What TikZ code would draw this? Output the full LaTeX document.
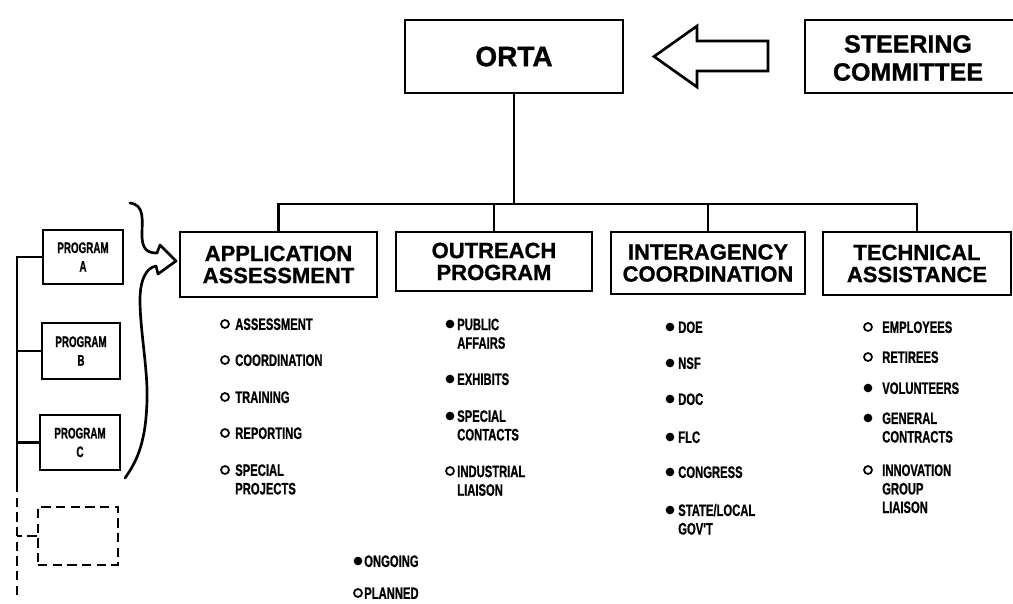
\documentclass[tikz,border=0pt]{standalone}
\usepackage{fontspec}
\setmainfont{Liberation Sans}
\newfontfamily\listfont{Liberation Sans}[FakeStretch=0.68, FakeBold=0.8]
\newfontfamily\progfont{Liberation Sans}[FakeStretch=0.64, FakeBold=0.8]
\newfontfamily\headfont{Liberation Sans}[FakeBold=1]
\usetikzlibrary{calc}
\begin{document}
\begin{tikzpicture}[x=0.75pt,y=-0.75pt,
  box/.style={draw, line width=2pt, inner sep=0pt, align=center},
  head/.style={font=\headfont\bfseries\fontsize{16.5}{16.5}\selectfont},
  big/.style={font=\headfont\bfseries\fontsize{18.75}{21}\selectfont},
  conn/.style={line width=1.6pt},
  item/.style={anchor=base west, inner sep=0pt, align=left, font=\listfont\bfseries\fontsize{12.4}{13.9}\selectfont},
  prog/.style={box, font=\progfont\bfseries\fontsize{11.5}{14}\selectfont},
  dotf/.style={circle, fill, inner sep=0pt, minimum size=6.5pt},
  doto/.style={circle, draw, line width=1.3pt, inner sep=0pt, minimum size=6pt},
  longdash/.style={dash pattern=on 7pt off 4pt}]
\useasboundingbox (0,0) rectangle (1013,603);
\clip (0,0) rectangle (1013,603);
% top
\node[box, font=\headfont\bfseries\fontsize{21}{21}\selectfont, minimum width=163.5pt, minimum height=54.75pt] (orta) at (514,56.5) {ORTA};
\node[box, minimum width=168.75pt, minimum height=54.75pt] (steer) at (917.5,56.5) {};
\node[big, align=center, inner sep=0pt] (steertext) at (908,58) {STEERING\\COMMITTEE};
\draw[line width=2pt, line join=miter] (768,41) -- (697,41) -- (697,26) -- (654,56.5) -- (697,87) -- (697,71) -- (768,71) -- cycle;
% second level
\node[box, head, minimum width=147.75pt, minimum height=48.75pt] (app) at (278.5,264.5) {APPLICATION\\ASSESSMENT};
\node[box, head, minimum width=147pt, minimum height=44.25pt] (out) at (494,261.5) {OUTREACH\\PROGRAM};
\node[box, head, minimum width=145.5pt, minimum height=46.5pt] (inter) at (708,263) {INTERAGENCY\\COORDINATION};
\node[box, head, minimum width=141pt, minimum height=47.25pt] (tech) at (917,263.5) {TECHNICAL\\ASSISTANCE};
\coordinate (bar) at (514,204);
\draw[conn] (orta.south) -- (bar);
\draw[conn] (app.north) |- (bar) -| (tech.north);
\draw[conn] (out.north) -- (out.north |- bar);
\draw[conn] (inter.north) -- (inter.north |- bar);
% programs
\node[prog, minimum width=60pt, minimum height=40.5pt] (pa) at (83,257) {PROGRAM\\A};
\node[prog, minimum width=58.5pt, minimum height=42pt] (pb) at (81,351) {PROGRAM\\B};
\node[prog, minimum width=60pt, minimum height=41.25pt] (pc) at (80,442.5) {PROGRAM\\C};
\node[box, longdash, minimum width=60pt, minimum height=43.5pt] (pd) at (78,536) {};
\coordinate (vtop) at (17,257);
\coordinate (vmid) at (17,483);
\coordinate (vbot) at (17,600);
\draw[conn] (pa.west) -- (vtop) -- (vmid);
\draw[conn, longdash] (vmid) -- (vbot);
\draw[conn] (pb.west) -- (pb.west -| vtop);
\draw[conn] (pc.west) -- (pc.west -| vtop);
\draw[conn, longdash] (pd.west) -- (pd.west -| vtop);
% brace arrow
\draw[line width=2pt, line join=round, line cap=round]
  (130,203) .. controls (145,205) and (142,220) .. (142,235)
  .. controls (142,250) and (148,253) .. (157,253) -- (160,245) -- (176,261) -- (158,274) -- (156,266)
  .. controls (145,268) and (140,282) .. (140,300)
  .. controls (140,330) and (148,370) .. (147,400)
  .. controls (146,440) and (138,460) .. (125,478);
% column 1
\node[doto] (c1a) at (225,324) {}; \node[item] (t1a) at (235,329.9) {ASSESSMENT};
\node[doto] (c1b) at (225,360) {}; \node[item] (t1b) at (235,365.9) {COORDINATION};
\node[doto] (c1c) at (225,397) {}; \node[item] (t1c) at (235,402.9) {TRAINING};
\node[doto] (c1d) at (225,433) {}; \node[item] (t1d) at (235,438.9) {REPORTING};
\node[doto] (c1e) at (225,470) {}; \node[item] (t1e) at (235,494.4) {SPECIAL\\PROJECTS};
% column 2
\node[dotf] (c2a) at (450,324) {}; \node[item] (t2a) at (457,348.7) {PUBLIC\\AFFAIRS};
\node[dotf] (c2b) at (450,379) {}; \node[item] (t2b) at (457,384.9) {EXHIBITS};
\node[dotf] (c2c) at (450,416) {}; \node[item] (t2c) at (457,440.4) {SPECIAL\\CONTACTS};
\node[doto] (c2d) at (450,471) {}; \node[item] (t2d) at (457,495.7) {INDUSTRIAL\\LIAISON};
% column 3
\node[dotf] (c3a) at (670,327) {}; \node[item] (t3a) at (678,332.9) {DOE};
\node[dotf] (c3b) at (670,363) {}; \node[item] (t3b) at (678,368.9) {NSF};
\node[dotf] (c3c) at (670,399) {}; \node[item] (t3c) at (678,404.9) {DOC};
\node[dotf] (c3d) at (670,437) {}; \node[item] (t3d) at (678,442.9) {FLC};
\node[dotf] (c3e) at (670,472) {}; \node[item] (t3e) at (678,477.9) {CONGRESS};
\node[dotf] (c3f) at (670,510) {}; \node[item] (t3f) at (678,534.5) {STATE/LOCAL\\GOV'T};
% column 4
\node[doto] (c4a) at (868,327) {}; \node[item] (t4a) at (882,332.9) {EMPLOYEES};
\node[doto] (c4b) at (868,357) {}; \node[item] (t4b) at (882,362.9) {RETIREES};
\node[dotf] (c4c) at (868,388) {}; \node[item] (t4c) at (882,393.9) {VOLUNTEERS};
\node[dotf] (c4d) at (868,418) {}; \node[item] (t4d) at (882,442.5) {GENERAL\\CONTRACTS};
\node[doto] (c4e) at (868,470) {}; \node[item] (t4e) at (882,513) {INNOVATION\\GROUP\\LIAISON};
% legend
\node[dotf] (lg1) at (358,561) {}; \node[item] (lt1) at (364,566.9) {ONGOING};
\node[doto] (lg2) at (358,593) {}; \node[item] (lt2) at (364,598.9) {PLANNED};
\end{tikzpicture}
\end{document}
